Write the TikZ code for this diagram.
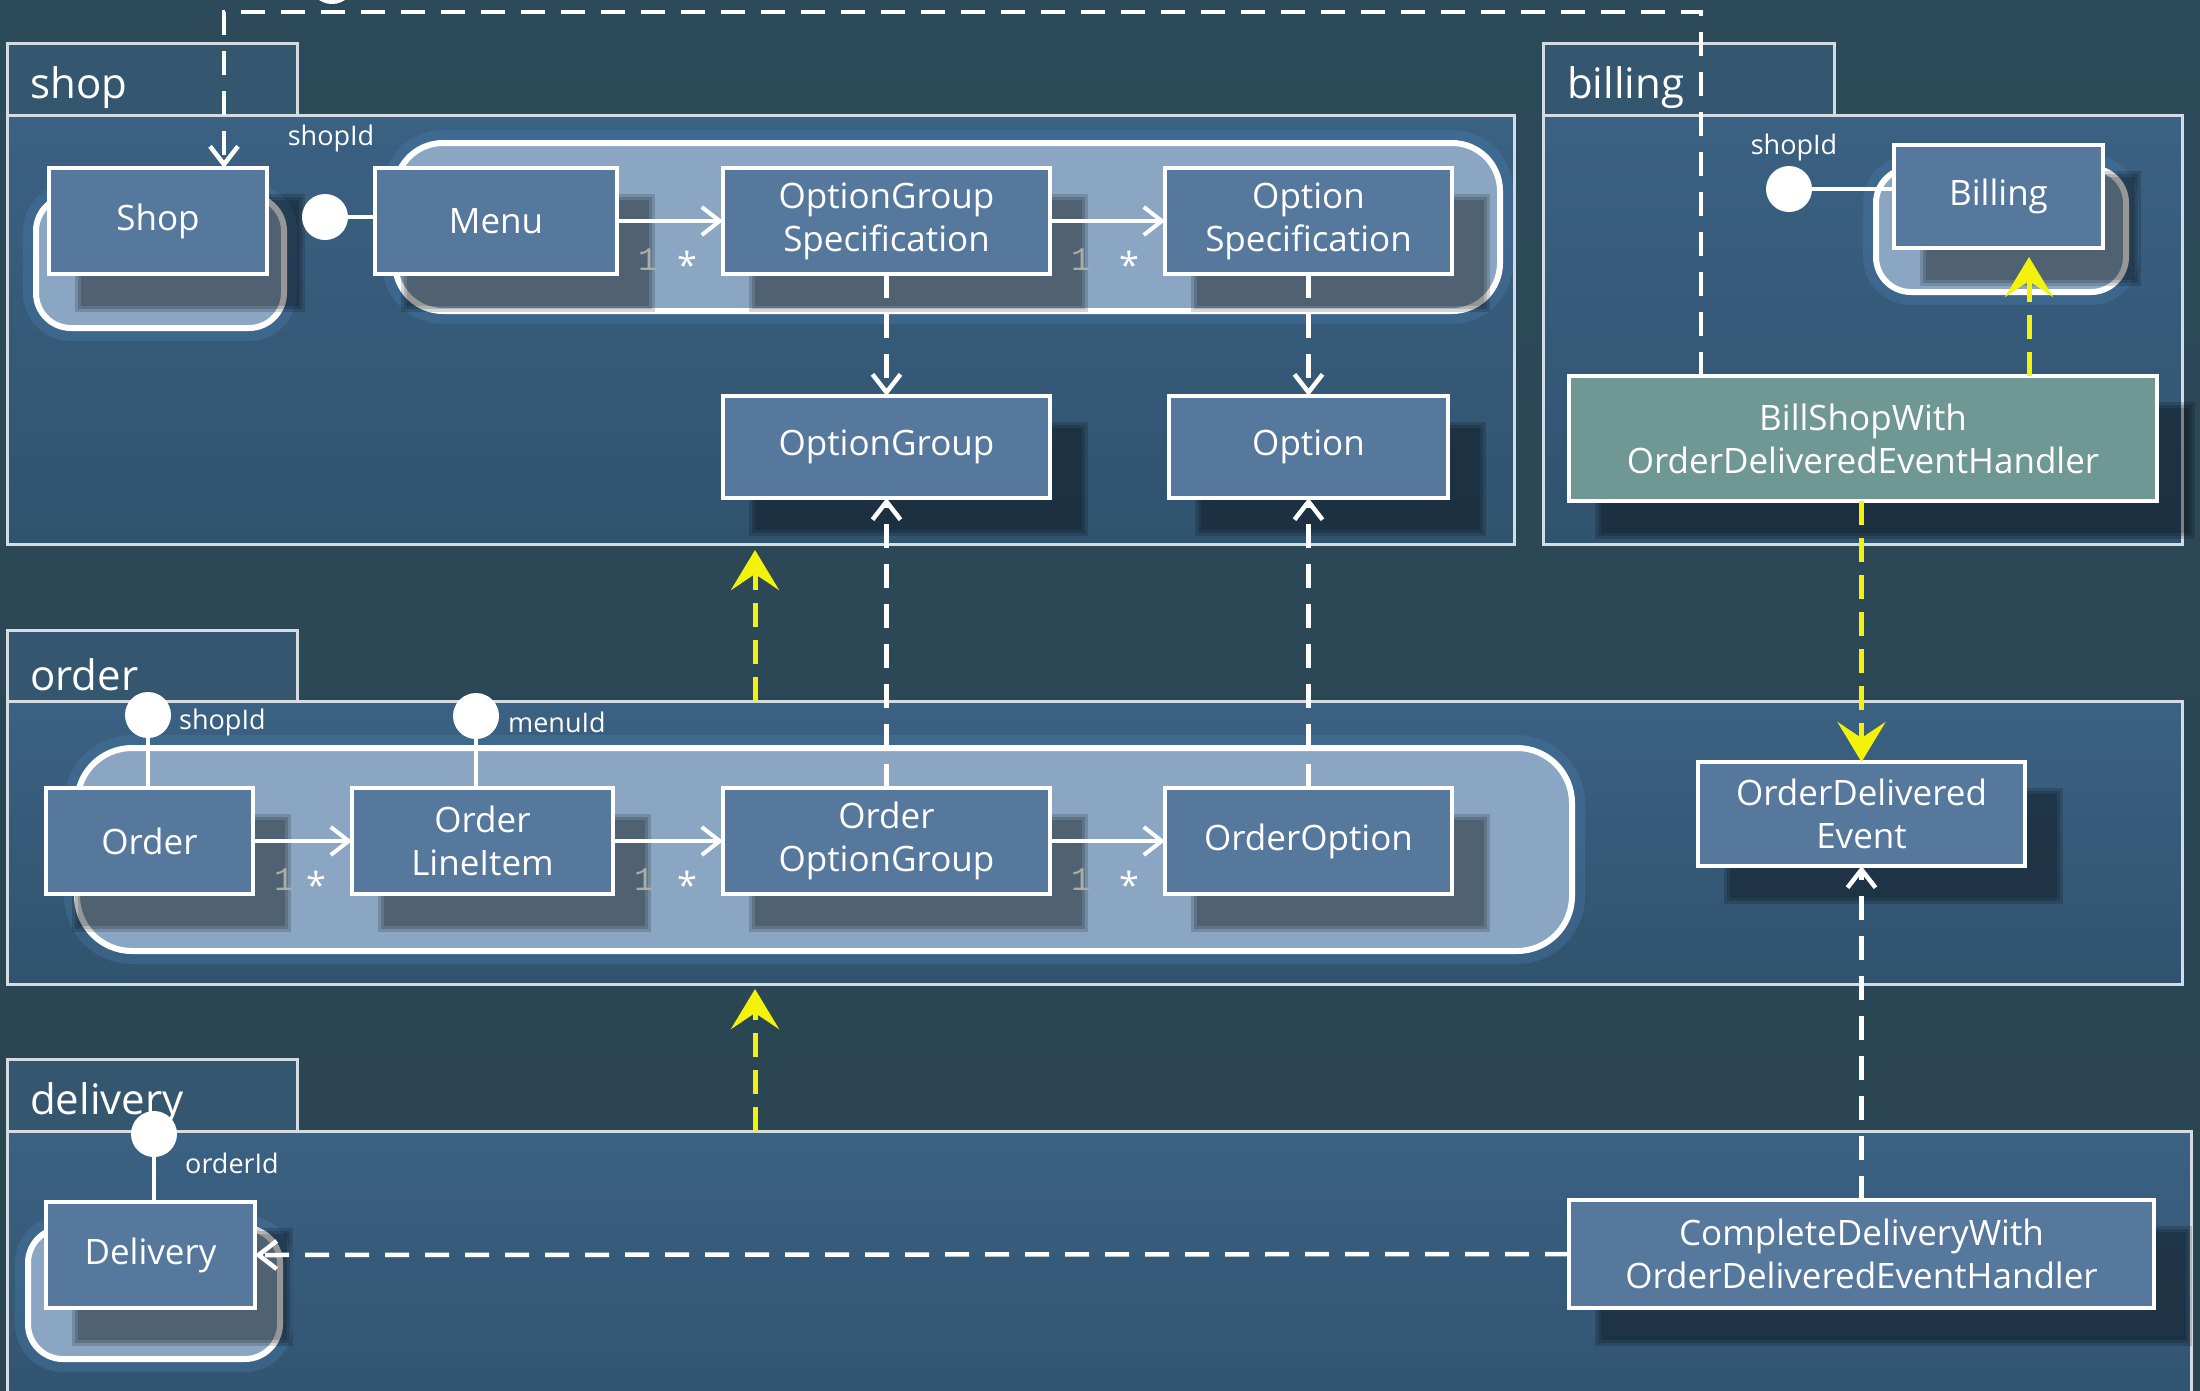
\documentclass[tikz,border=0pt]{standalone}
\usepackage{fontspec}
\setmainfont{Open Sans}
\newfontfamily\multfont{Liberation Mono}
\usetikzlibrary{arrows.meta,calc}

\definecolor{bgtop}{HTML}{2D4A5A}
\definecolor{bgbot}{HTML}{2A4451}
\definecolor{pkgtop}{HTML}{3B6183}
\definecolor{pkgbot}{HTML}{30536E}
\definecolor{tabfill}{HTML}{35566F}
\definecolor{frameline}{HTML}{D3DCE2}
\definecolor{boxfill}{HTML}{56789D}
\definecolor{aggfill}{HTML}{8AA6C3}
\definecolor{glowblue}{HTML}{4A7DAD}
\definecolor{handlerfill}{HTML}{6F9794}
\definecolor{evyellow}{HTML}{F2F20A}
\definecolor{multgrey}{HTML}{A9ADA5}

\newcommand\bxfont{\fontsize{35}{43}\selectfont}
\newcommand\tabfont{\fontsize{42}{48}\selectfont}
\newcommand\idfont{\fontsize{27}{32}\selectfont}

\pgfdeclarelayer{pkglayer}
\pgfdeclarelayer{agglayer}
\pgfdeclarelayer{shadelayer}
\pgfsetlayers{pkglayer,agglayer,shadelayer,main}

\begin{document}
\begin{tikzpicture}[x=1pt,y=-1pt,
  pkgbody/.style={draw=frameline, line width=3pt, top color=pkgtop, bottom color=pkgbot, inner sep=0pt, outer sep=0pt},
  pkgtab/.style={draw=frameline, line width=3pt, fill=tabfill, inner sep=0pt, outer sep=0pt},
  tablabel/.style={text=white, font=\tabfont, anchor=west, inner sep=0pt},
  umlbox/.style={draw=white, line width=4pt, fill=boxfill, text=white, font=\bxfont, align=center, inner sep=0pt, outer sep=0pt},
  handler/.style={umlbox, fill=handlerfill},
  agg/.style={draw=white, line width=6pt, fill=aggfill, rounded corners=#1, inner sep=0pt,
    preaction={draw=glowblue, draw opacity=0.35, line width=26pt}},
  lolli/.style={circle, fill=white, minimum size=46pt, inner sep=0pt, outer sep=0pt},
  stem/.style={draw=white, line width=4pt},
  idlabel/.style={text=white, font=\idfont, inner sep=0pt},
  mone/.style={text=multgrey, font=\multfont\fontsize{33}{34}\selectfont, inner sep=0pt},
  mstar/.style={text=white, font=\fontsize{36}{40}\selectfont, inner sep=0pt},
  assoc/.style={draw=white, line width=4pt, -{Straight Barb[length=18pt,width=28pt]}},
  depend/.style={draw=white, line width=4.5pt, dash pattern=on 24pt off 16pt, -{Straight Barb[length=18pt,width=28pt]}},
  eventflow/.style={draw=evyellow, line width=5pt, dash pattern=on 24pt off 13pt, -{Stealth[length=40pt,width=48pt,inset=16pt]}},
  shadowpiece/.style={fill=black, fill opacity=0.16}
]
\useasboundingbox (0,0) rectangle (2200,1390);

% ---------- backdrop and package frames ----------
\begin{pgfonlayer}{pkglayer}
  \shade[top color=bgtop, bottom color=bgbot] (0,0) rectangle (2200,1390);

  \node[pkgbody, minimum width=1507pt, minimum height=429pt] (shopP) at (760.5,329.5) {};
  \node[pkgtab, minimum width=290pt, minimum height=72pt] (shopT) at (152,79) {};
  \node[tablabel] at (30,88) {shop};

  \node[pkgbody, minimum width=639pt, minimum height=429pt] (billingP) at (1862.5,329.5) {};
  \node[pkgtab, minimum width=291pt, minimum height=72pt] (billingT) at (1688.5,79) {};
  \node[tablabel] at (1567,88) {billing};

  \node[pkgbody, minimum width=2175pt, minimum height=283pt] (orderP) at (1094.5,842.5) {};
  \node[pkgtab, minimum width=290pt, minimum height=71pt] (orderT) at (152,665.5) {};
  \node[tablabel] at (30,675) {order};

  \node[pkgbody, minimum width=2184pt, minimum height=299pt] (deliveryP) at (1099,1280.5) {};
  \node[pkgtab, minimum width=290pt, minimum height=72pt] (deliveryT) at (152,1095) {};
  \node[tablabel] at (30,1104) {delivery};
\end{pgfonlayer}

% ---------- aggregate boundaries ----------
\begin{pgfonlayer}{agglayer}
  \node[agg=35pt, minimum width=248pt, minimum height=132pt] (shopAgg) at (160,262) {};
  \node[agg=48pt, minimum width=1105pt, minimum height=168pt] (menuAgg) at (947.5,227) {};
  \node[agg=35pt, minimum width=250pt, minimum height=124pt] (billingAgg) at (2001,230) {};
  \node[agg=55pt, minimum width=1495pt, minimum height=203pt] (orderAgg) at (824.5,849.5) {};
  \node[agg=35pt, minimum width=252pt, minimum height=131pt] (deliveryAgg) at (154,1293.5) {};
\end{pgfonlayer}

% ---------- classes ----------
\node[umlbox, minimum width=218pt, minimum height=106pt] (shop) at (158,221) {Shop};
\node[umlbox, minimum width=242pt, minimum height=106pt] (menu) at (496,221) {Menu};
\node[umlbox, minimum width=327pt, minimum height=106pt] (ogs) at (886.5,221) {OptionGroup\\Specification};
\node[umlbox, minimum width=287pt, minimum height=106pt] (os) at (1308.5,221) {Option\\Specification};
\node[umlbox, minimum width=327pt, minimum height=102pt] (og) at (886.5,447) {OptionGroup};
\node[umlbox, minimum width=279pt, minimum height=102pt] (opt) at (1308.5,447) {Option};

\node[umlbox, minimum width=209pt, minimum height=103pt] (billing) at (1998.5,196.5) {Billing};
\node[handler, minimum width=588pt, minimum height=125pt] (bsh) at (1863,438.5) {BillShopWith\\OrderDeliveredEventHandler};

\node[umlbox, minimum width=207pt, minimum height=106pt] (order) at (149.5,841) {Order};
\node[umlbox, minimum width=261pt, minimum height=106pt] (oli) at (482.5,841) {Order\\LineItem};
\node[umlbox, minimum width=327pt, minimum height=106pt] (oog) at (886.5,841) {Order\\OptionGroup};
\node[umlbox, minimum width=287pt, minimum height=106pt] (oo) at (1308.5,841) {OrderOption};
\node[umlbox, minimum width=327pt, minimum height=104pt] (ode) at (1861.5,814) {OrderDelivered\\Event};

\node[umlbox, minimum width=209pt, minimum height=106pt] (delivery) at (150.5,1255) {Delivery};
\node[umlbox, minimum width=585pt, minimum height=108pt] (cdh) at (1861.5,1254) {CompleteDeliveryWith\\OrderDeliveredEventHandler};

% ---------- drop shadows ----------
\begin{pgfonlayer}{shadelayer}
  \foreach \n in {shop,menu,ogs,os,og,opt,billing,bsh,order,oli,oog,oo,ode,delivery,cdh} {
    \foreach \k in {0,3,6} {
      \fill[shadowpiece] ($(\n.north west)+(32-\k,32-\k)$) rectangle ($(\n.south east)+(32+\k,32+\k)$);
    }
  }
\end{pgfonlayer}

% ---------- identity references ----------
\node[lolli] (cShop) at (325,217) {};
\draw[stem] (cShop) -- (cShop -| menu.west);
\node[idlabel] at (331,138) {shopId};

\node[lolli] (cBill) at (1789,189) {};
\draw[stem] (cBill) -- (cBill -| billing.west);
\node[idlabel] at (1794,147) {shopId};

\node[lolli] (cOrder) at (148,715) {};
\draw[stem] (cOrder) -- (cOrder |- order.north);
\node[idlabel, anchor=west] at (179,722) {shopId};

\node[lolli] (cMenu) at (476,716) {};
\draw[stem] (cMenu) -- (cMenu |- oli.north);
\node[idlabel, anchor=west] at (508,722) {menuId};

\node[lolli] (cDeliv) at (154,1134) {};
\draw[stem] (cDeliv) -- (cDeliv |- delivery.north);
\node[idlabel, anchor=west] at (185,1163) {orderId};

\node[lolli] (cTop) at (332,-19) {};

% ---------- associations with multiplicities ----------
\draw[assoc] (menu.east) -- (ogs.west);
\draw[assoc] (ogs.east) -- (os.west);
\draw[assoc] (order.east) -- (oli.west);
\draw[assoc] (oli.east) -- (oog.west);
\draw[assoc] (oog.east) -- (oo.west);

\foreach \a/\b in {menu/ogs, ogs/os, order/oli, oli/oog, oog/oo} {
  \node[mone] at ($(\a.east)+(31,39)$) {1};
  \node[mstar] at ($(\b.west)+(-36,44)$) {*};
}

% ---------- dependencies ----------
\draw[depend] (ogs.south) -- (og.north);
\draw[depend] (os.south) -- (opt.north);
\draw[depend] (oog.north) -- (og.south);
\draw[depend] (oo.north) -- (opt.south);
\draw[depend] (cdh.north) -- (ode.south);
\draw[depend] (cdh.west) -- (delivery.east);

\coordinate (topL) at (224,12);
\coordinate (topR) at (1701,12);
\draw[depend] (bsh.north -| topR) -- (topR) -- (topL) -- (topL |- shop.north);

% ---------- event flow between contexts ----------
\coordinate (flowX) at (755,0);
\coordinate (billX) at (2029,0);
\draw[eventflow] (orderP.north -| flowX) -- ($(shopP.south -| flowX)+(0,6)$);
\draw[eventflow] (deliveryP.north -| flowX) -- ($(orderP.south -| flowX)+(0,5)$);
\draw[eventflow] (bsh.north -| billX) -- ($(billing.south -| billX)+(0,9)$);
\draw[eventflow] (bsh.south -| ode.north) -- (ode.north);
\end{tikzpicture}
\end{document}
